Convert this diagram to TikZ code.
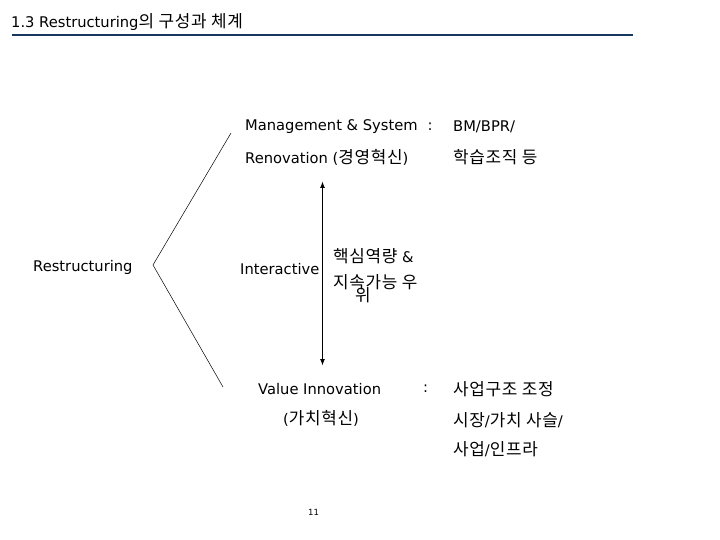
\documentclass[tikz,border=0pt]{standalone}
\usepackage{fontspec}
\usetikzlibrary{arrows.meta}
\setmainfont{DejaVu Sans}
\newfontfamily\kr[Scale=1.15,LetterSpace=4]{Noto Sans CJK KR}
\definecolor{navy}{HTML}{17375E}
\begin{document}
\begin{tikzpicture}[x=1pt,y=-1pt,
  txt/.style={anchor=west,inner sep=0pt,font=\fontsize{14.7}{16}\selectfont},
  line/.style={draw=black,line width=0.5pt}]
\useasboundingbox (0,0) rectangle (720,540);
\node[txt] (title) at (11,22) {1.3 Restructuring{\kr 의 구성과 체계}};
\coordinate (b0) at (12,35);
\coordinate (b1) at (420,35);
\coordinate (b2) at (633,35);
\draw[navy,line width=1.5pt] (b0) -- (b1);
\draw[navy,line width=2.5pt] (b1) -- (b2);

\node[txt] (ms) at (245,127) {Management \& System\hspace{10pt}:};
\node[txt] (bm) at (453,127) {BM/BPR/};
\node[txt] (ren) at (245,157) {Renovation ({\kr 경영혁신})};
\node[txt] (hak) at (453,157) {{\kr 학습조직 등}};
\node[txt] (res) at (33,267) {Restructuring};
\node[txt] (int) at (240,269) {Interactive};
\node[txt] (k1) at (333,256) {{\kr 핵심역량} \&};
\node[txt] (k2) at (333,282) {{\kr 지속가능 우}};
\node[txt] (k3) at (355,295) {{\kr 위}};
\node[txt] (vi) at (258,389) {Value Innovation};
\node[txt] (col) at (423,389) {:};
\node[txt] (sa) at (453,389) {{\kr 사업구조 조정}};
\node[txt] (ga) at (283,418) {({\kr 가치혁신})};
\node[txt] (si) at (453,420) {{\kr 시장}/{\kr 가치 사슬}/};
\node[txt] (in) at (453,449) {{\kr 사업}/{\kr 인프라}};
\node[txt,font=\fontsize{8.5}{10}\selectfont] (pg) at (308,512) {11};

\coordinate (apex) at (153,265);
\coordinate (top) at (231,133);
\coordinate (bot) at (223,387);
\draw[line] (top) -- (apex) -- (bot);
\coordinate (a1) at (322.5,181);
\coordinate (a2) at (322.5,366);
\draw[line width=1.6pt,{Latex[length=7pt,width=5pt]}-{Latex[length=7pt,width=5pt]}] (a1) -- (a2);
\end{tikzpicture}
\end{document}
